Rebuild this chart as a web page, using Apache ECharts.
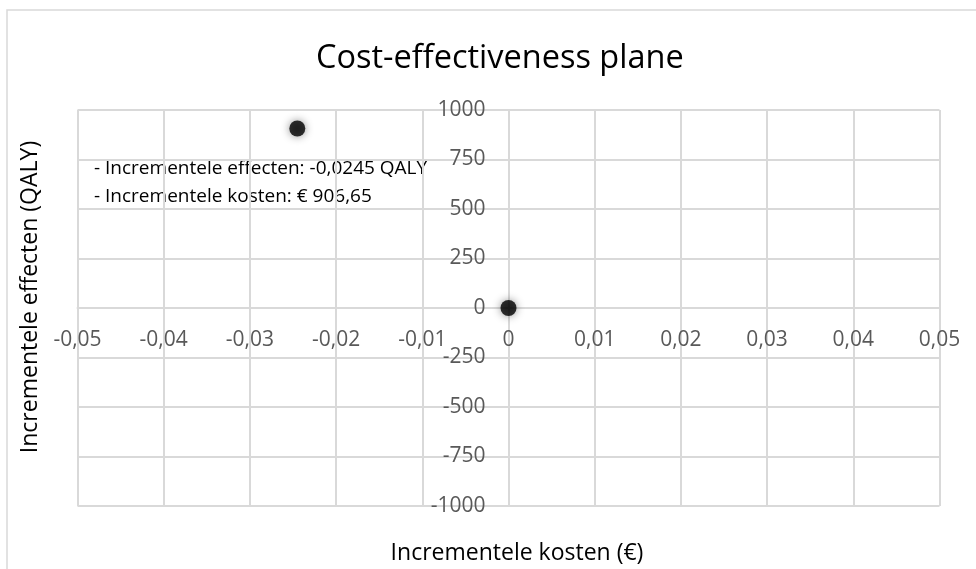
<!DOCTYPE html>
<html>
<head>
<meta charset="utf-8">
<script src="https://cdn.jsdelivr.net/npm/echarts@6/dist/echarts.min.js"></script>
<style>
  html, body { margin: 0; padding: 0; background: #fff; }
  #chart { width: 976px; height: 569px; }
</style>
</head>
<body>
<div id="chart"></div>
<script>
// data
const effects = [-0.0245, 0];       // incremental effects (x)
const costs = [906.65, 0];          // incremental costs (y)
const xTicks = { min: -0.05, max: 0.05, interval: 0.01 };
const yTicks = { min: -1000, max: 1000, interval: 250 };
const titleText = 'Cost-effectiveness plane';
const xName = 'Incrementele kosten (€)';
const yName = 'Incrementele effecten (QALY)';
const noteLines = [
  '- Incrementele effecten: -0,0245 QALY',
  '- Incrementele kosten: € 906,65'
];

const font = '"Open Sans", sans-serif';
const gridColor = '#d9d9d9';
const labelColor = '#595959';

// plot box, axes cross in the middle (at 0,0)
const plot = { left: 77.5, right: 36.5, top: 110, bottom: 63 };
const plotW = 976 - plot.left - plot.right;
const plotH = 569 - plot.top - plot.bottom;

const fmt = v => String(+Number(v).toFixed(4)).replace('.', ',');

const chart = echarts.init(document.getElementById('chart'));
chart.setOption({
  animation: false,
  textStyle: { fontFamily: font },
  title: {
    text: titleText,
    left: 311,
    top: 37,
    textStyle: { fontFamily: font, fontSize: 32.5, fontWeight: 'normal', color: '#000' }
  },
  grid: plot,
  xAxis: {
    type: 'value',
    min: xTicks.min, max: xTicks.max, interval: xTicks.interval,
    offset: -plotH / 2,
    axisLine: { onZero: false, lineStyle: { color: gridColor, width: 2 } },
    axisTick: { show: false },
    axisLabel: { color: labelColor, fontSize: 21, margin: 22, formatter: fmt, showMinLabel: true, showMaxLabel: true },
    splitLine: { lineStyle: { color: gridColor, width: 2 } }
  },
  yAxis: {
    type: 'value',
    min: yTicks.min, max: yTicks.max, interval: yTicks.interval,
    offset: -plotW / 2,
    axisLine: { onZero: false, lineStyle: { color: gridColor, width: 2 } },
    axisTick: { show: false },
    axisLabel: { color: labelColor, fontSize: 21, margin: 23, formatter: fmt },
    splitLine: { lineStyle: { color: gridColor, width: 2 } }
  },
  graphic: [
    {
      type: 'rect', silent: true, z: -10,
      shape: { x: 7, y: 10, width: 1000, height: 600 },
      style: { fill: '#fff', stroke: '#d9d9d9', lineWidth: 1.5 }
    },
    {
      type: 'text', x: 517, y: 553,
      style: { text: xName, font: '23px ' + font, fill: '#000', align: 'center', verticalAlign: 'middle' }
    },
    {
      type: 'text', x: 30, y: 297, rotation: Math.PI / 2,
      style: { text: yName, font: '23px ' + font, fill: '#000', align: 'center', verticalAlign: 'middle' }
    },
    {
      type: 'text', x: 94, y: 155,
      style: { text: noteLines.join('\n'), font: '19px ' + font, lineHeight: 28, fill: '#000' }
    }
  ],
  series: [{
    type: 'scatter',
    data: effects.map((e, i) => [e, costs[i]]),
    symbolSize: 16,
    itemStyle: { color: '#000', shadowBlur: 8, shadowColor: 'rgba(0,0,0,0.55)' }
  }]
});
</script>
</body>
</html>
